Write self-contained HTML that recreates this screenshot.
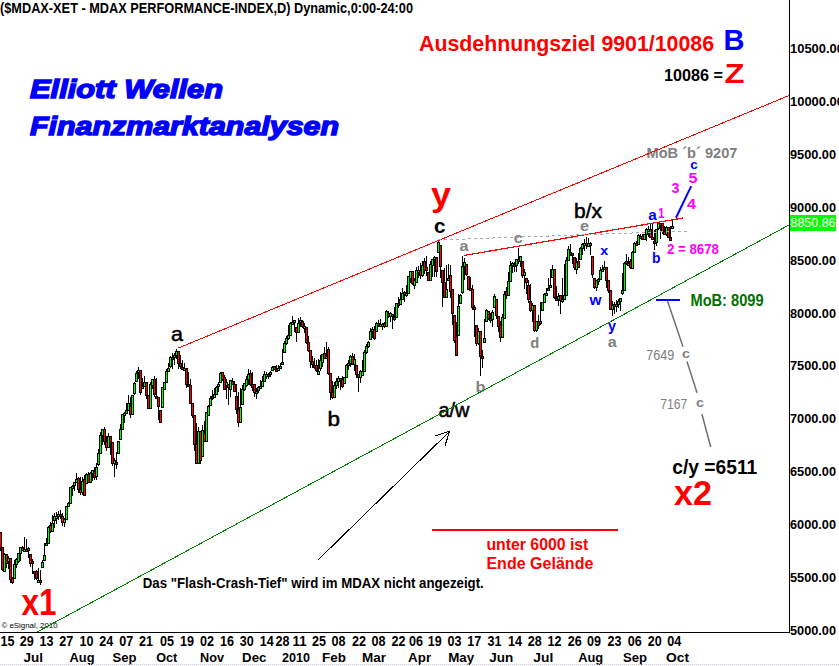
<!DOCTYPE html>
<html><head><meta charset="utf-8"><style>
html,body{margin:0;padding:0;background:#fff;width:839px;height:666px;overflow:hidden}
svg{display:block}
text{font-family:"Liberation Sans",sans-serif}
</style></head><body>
<svg width="839" height="666" viewBox="0 0 839 666">
<rect width="839" height="666" fill="#fff"/>
<g shape-rendering="crispEdges">
<rect x="0" y="532" width="1" height="19"/>
<rect x="-1" y="532" width="3" height="16"/>
<rect x="0" y="533" width="1" height="14" fill="#ff0000"/>
<rect x="2" y="547" width="1" height="24"/>
<rect x="1" y="547" width="3" height="23"/>
<rect x="2" y="548" width="1" height="21" fill="#ff0000"/>
<rect x="4" y="553" width="1" height="19"/>
<rect x="3" y="554" width="3" height="18"/>
<rect x="4" y="555" width="1" height="16" fill="#00ff00"/>
<rect x="6" y="554" width="1" height="14"/>
<rect x="5" y="554" width="3" height="10"/>
<rect x="6" y="555" width="1" height="8" fill="#ff0000"/>
<rect x="8" y="556" width="1" height="13"/>
<rect x="7" y="558" width="3" height="4"/>
<rect x="8" y="559" width="1" height="2" fill="#00ff00"/>
<rect x="10" y="558" width="1" height="25"/>
<rect x="9" y="558" width="3" height="22"/>
<rect x="10" y="559" width="1" height="20" fill="#ff0000"/>
<rect x="12" y="577" width="1" height="7"/>
<rect x="11" y="578" width="3" height="5"/>
<rect x="12" y="579" width="1" height="3" fill="#ff0000"/>
<rect x="14" y="560" width="1" height="19"/>
<rect x="13" y="564" width="3" height="15"/>
<rect x="14" y="565" width="1" height="13" fill="#00ff00"/>
<rect x="16" y="558" width="1" height="10"/>
<rect x="15" y="559" width="3" height="6"/>
<rect x="16" y="560" width="1" height="4" fill="#00ff00"/>
<rect x="18" y="553" width="1" height="10"/>
<rect x="17" y="553" width="3" height="9"/>
<rect x="18" y="554" width="1" height="7" fill="#00ff00"/>
<rect x="20" y="547" width="1" height="14"/>
<rect x="19" y="547" width="3" height="7"/>
<rect x="20" y="548" width="1" height="5" fill="#00ff00"/>
<rect x="22" y="546" width="1" height="5"/>
<rect x="21" y="547" width="3" height="4"/>
<rect x="22" y="548" width="1" height="2" fill="#ff0000"/>
<rect x="24" y="537" width="1" height="13"/>
<rect x="23" y="549" width="3" height="3"/>
<rect x="24" y="550" width="1" height="1" fill="#00ff00"/>
<rect x="26" y="539" width="1" height="12"/>
<rect x="25" y="549" width="3" height="3"/>
<rect x="26" y="550" width="1" height="1" fill="#ff0000"/>
<rect x="28" y="547" width="1" height="11"/>
<rect x="27" y="548" width="3" height="3"/>
<rect x="28" y="549" width="1" height="1" fill="#00ff00"/>
<rect x="30" y="554" width="1" height="13"/>
<rect x="29" y="554" width="3" height="10"/>
<rect x="30" y="555" width="1" height="8" fill="#ff0000"/>
<rect x="32" y="559" width="1" height="15"/>
<rect x="31" y="561" width="3" height="3"/>
<rect x="32" y="562" width="1" height="1" fill="#ff0000"/>
<rect x="34" y="571" width="1" height="9"/>
<rect x="33" y="571" width="3" height="3"/>
<rect x="34" y="572" width="1" height="1" fill="#ff0000"/>
<rect x="36" y="570" width="1" height="10"/>
<rect x="35" y="571" width="3" height="8"/>
<rect x="36" y="572" width="1" height="6" fill="#ff0000"/>
<rect x="38" y="568" width="1" height="14"/>
<rect x="37" y="580" width="3" height="3"/>
<rect x="38" y="581" width="1" height="1" fill="#00ff00"/>
<rect x="40" y="570" width="1" height="15"/>
<rect x="39" y="580" width="3" height="3"/>
<rect x="40" y="581" width="1" height="1" fill="#ff0000"/>
<rect x="42" y="560" width="1" height="8"/>
<rect x="41" y="562" width="3" height="6"/>
<rect x="42" y="563" width="1" height="4" fill="#00ff00"/>
<rect x="44" y="543" width="1" height="18"/>
<rect x="43" y="555" width="3" height="6"/>
<rect x="44" y="556" width="1" height="4" fill="#00ff00"/>
<rect x="46" y="538" width="1" height="7"/>
<rect x="45" y="543" width="3" height="3"/>
<rect x="46" y="544" width="1" height="1" fill="#00ff00"/>
<rect x="48" y="526" width="1" height="18"/>
<rect x="47" y="527" width="3" height="17"/>
<rect x="48" y="528" width="1" height="15" fill="#00ff00"/>
<rect x="50" y="522" width="1" height="11"/>
<rect x="49" y="525" width="3" height="7"/>
<rect x="50" y="526" width="1" height="5" fill="#ff0000"/>
<rect x="52" y="515" width="1" height="17"/>
<rect x="51" y="523" width="3" height="9"/>
<rect x="52" y="524" width="1" height="7" fill="#00ff00"/>
<rect x="54" y="513" width="1" height="15"/>
<rect x="53" y="516" width="3" height="5"/>
<rect x="54" y="517" width="1" height="3" fill="#00ff00"/>
<rect x="56" y="512" width="1" height="12"/>
<rect x="55" y="516" width="3" height="3"/>
<rect x="56" y="517" width="1" height="1" fill="#00ff00"/>
<rect x="58" y="511" width="1" height="9"/>
<rect x="57" y="514" width="3" height="3"/>
<rect x="58" y="515" width="1" height="1" fill="#00ff00"/>
<rect x="60" y="510" width="1" height="9"/>
<rect x="59" y="514" width="3" height="3"/>
<rect x="60" y="515" width="1" height="1" fill="#ff0000"/>
<rect x="62" y="513" width="1" height="13"/>
<rect x="61" y="516" width="3" height="7"/>
<rect x="62" y="517" width="1" height="5" fill="#ff0000"/>
<rect x="64" y="518" width="1" height="9"/>
<rect x="63" y="519" width="3" height="4"/>
<rect x="64" y="520" width="1" height="2" fill="#00ff00"/>
<rect x="66" y="506" width="1" height="14"/>
<rect x="65" y="506" width="3" height="14"/>
<rect x="66" y="507" width="1" height="12" fill="#00ff00"/>
<rect x="68" y="502" width="1" height="5"/>
<rect x="67" y="503" width="3" height="4"/>
<rect x="68" y="504" width="1" height="2" fill="#00ff00"/>
<rect x="70" y="487" width="1" height="17"/>
<rect x="69" y="487" width="3" height="17"/>
<rect x="70" y="488" width="1" height="15" fill="#00ff00"/>
<rect x="72" y="485" width="1" height="11"/>
<rect x="71" y="486" width="3" height="3"/>
<rect x="72" y="487" width="1" height="1" fill="#00ff00"/>
<rect x="74" y="482" width="1" height="9"/>
<rect x="73" y="482" width="3" height="4"/>
<rect x="74" y="483" width="1" height="2" fill="#00ff00"/>
<rect x="76" y="473" width="1" height="10"/>
<rect x="75" y="479" width="3" height="4"/>
<rect x="76" y="480" width="1" height="2" fill="#00ff00"/>
<rect x="78" y="477" width="1" height="16"/>
<rect x="77" y="478" width="3" height="12"/>
<rect x="78" y="479" width="1" height="10" fill="#ff0000"/>
<rect x="80" y="477" width="1" height="18"/>
<rect x="79" y="489" width="3" height="4"/>
<rect x="80" y="490" width="1" height="2" fill="#ff0000"/>
<rect x="82" y="477" width="1" height="18"/>
<rect x="81" y="481" width="3" height="12"/>
<rect x="82" y="482" width="1" height="10" fill="#00ff00"/>
<rect x="84" y="475" width="1" height="21"/>
<rect x="83" y="479" width="3" height="17"/>
<rect x="84" y="480" width="1" height="15" fill="#ff0000"/>
<rect x="86" y="473" width="1" height="11"/>
<rect x="85" y="474" width="3" height="10"/>
<rect x="86" y="475" width="1" height="8" fill="#00ff00"/>
<rect x="88" y="472" width="1" height="11"/>
<rect x="87" y="474" width="3" height="9"/>
<rect x="88" y="475" width="1" height="7" fill="#ff0000"/>
<rect x="90" y="472" width="1" height="11"/>
<rect x="89" y="473" width="3" height="10"/>
<rect x="90" y="474" width="1" height="8" fill="#00ff00"/>
<rect x="92" y="470" width="1" height="11"/>
<rect x="91" y="470" width="3" height="4"/>
<rect x="92" y="471" width="1" height="2" fill="#00ff00"/>
<rect x="94" y="467" width="1" height="13"/>
<rect x="93" y="471" width="3" height="7"/>
<rect x="94" y="472" width="1" height="5" fill="#ff0000"/>
<rect x="96" y="463" width="1" height="17"/>
<rect x="95" y="467" width="3" height="10"/>
<rect x="96" y="468" width="1" height="8" fill="#00ff00"/>
<rect x="98" y="449" width="1" height="17"/>
<rect x="97" y="453" width="3" height="12"/>
<rect x="98" y="454" width="1" height="10" fill="#00ff00"/>
<rect x="100" y="432" width="1" height="22"/>
<rect x="99" y="435" width="3" height="19"/>
<rect x="100" y="436" width="1" height="17" fill="#00ff00"/>
<rect x="102" y="429" width="1" height="16"/>
<rect x="101" y="429" width="3" height="7"/>
<rect x="102" y="430" width="1" height="5" fill="#00ff00"/>
<rect x="104" y="427" width="1" height="18"/>
<rect x="103" y="429" width="3" height="13"/>
<rect x="104" y="430" width="1" height="11" fill="#ff0000"/>
<rect x="106" y="436" width="1" height="15"/>
<rect x="105" y="441" width="3" height="7"/>
<rect x="106" y="442" width="1" height="5" fill="#ff0000"/>
<rect x="108" y="433" width="1" height="15"/>
<rect x="107" y="436" width="3" height="12"/>
<rect x="108" y="437" width="1" height="10" fill="#00ff00"/>
<rect x="110" y="436" width="1" height="19"/>
<rect x="109" y="436" width="3" height="7"/>
<rect x="110" y="437" width="1" height="5" fill="#ff0000"/>
<rect x="112" y="442" width="1" height="24"/>
<rect x="111" y="442" width="3" height="22"/>
<rect x="112" y="443" width="1" height="20" fill="#ff0000"/>
<rect x="114" y="458" width="1" height="19"/>
<rect x="113" y="460" width="3" height="4"/>
<rect x="114" y="461" width="1" height="2" fill="#00ff00"/>
<rect x="116" y="452" width="1" height="17"/>
<rect x="115" y="462" width="3" height="3"/>
<rect x="116" y="463" width="1" height="1" fill="#ff0000"/>
<rect x="118" y="441" width="1" height="13"/>
<rect x="117" y="441" width="3" height="13"/>
<rect x="118" y="442" width="1" height="11" fill="#00ff00"/>
<rect x="120" y="424" width="1" height="16"/>
<rect x="119" y="429" width="3" height="11"/>
<rect x="120" y="430" width="1" height="9" fill="#00ff00"/>
<rect x="122" y="414" width="1" height="16"/>
<rect x="121" y="414" width="3" height="16"/>
<rect x="122" y="415" width="1" height="14" fill="#00ff00"/>
<rect x="124" y="412" width="1" height="11"/>
<rect x="123" y="413" width="3" height="3"/>
<rect x="124" y="414" width="1" height="1" fill="#00ff00"/>
<rect x="126" y="403" width="1" height="11"/>
<rect x="125" y="410" width="3" height="4"/>
<rect x="126" y="411" width="1" height="2" fill="#00ff00"/>
<rect x="128" y="395" width="1" height="16"/>
<rect x="127" y="403" width="3" height="8"/>
<rect x="128" y="404" width="1" height="6" fill="#00ff00"/>
<rect x="130" y="397" width="1" height="21"/>
<rect x="129" y="406" width="3" height="9"/>
<rect x="130" y="407" width="1" height="7" fill="#ff0000"/>
<rect x="132" y="395" width="1" height="20"/>
<rect x="131" y="395" width="3" height="20"/>
<rect x="132" y="396" width="1" height="18" fill="#00ff00"/>
<rect x="134" y="382" width="1" height="13"/>
<rect x="133" y="383" width="3" height="11"/>
<rect x="134" y="384" width="1" height="9" fill="#00ff00"/>
<rect x="136" y="371" width="1" height="11"/>
<rect x="135" y="373" width="3" height="9"/>
<rect x="136" y="374" width="1" height="7" fill="#00ff00"/>
<rect x="138" y="367" width="1" height="12"/>
<rect x="137" y="370" width="3" height="3"/>
<rect x="138" y="371" width="1" height="1" fill="#00ff00"/>
<rect x="140" y="370" width="1" height="25"/>
<rect x="139" y="370" width="3" height="23"/>
<rect x="140" y="371" width="1" height="21" fill="#ff0000"/>
<rect x="142" y="378" width="1" height="11"/>
<rect x="141" y="386" width="3" height="3"/>
<rect x="142" y="387" width="1" height="1" fill="#00ff00"/>
<rect x="144" y="376" width="1" height="11"/>
<rect x="143" y="382" width="3" height="5"/>
<rect x="144" y="383" width="1" height="3" fill="#00ff00"/>
<rect x="146" y="382" width="1" height="17"/>
<rect x="145" y="382" width="3" height="14"/>
<rect x="146" y="383" width="1" height="12" fill="#ff0000"/>
<rect x="148" y="395" width="1" height="14"/>
<rect x="147" y="395" width="3" height="14"/>
<rect x="148" y="396" width="1" height="12" fill="#ff0000"/>
<rect x="150" y="382" width="1" height="27"/>
<rect x="149" y="384" width="3" height="25"/>
<rect x="150" y="385" width="1" height="23" fill="#00ff00"/>
<rect x="152" y="379" width="1" height="10"/>
<rect x="151" y="379" width="3" height="7"/>
<rect x="152" y="380" width="1" height="5" fill="#00ff00"/>
<rect x="154" y="376" width="1" height="21"/>
<rect x="153" y="379" width="3" height="16"/>
<rect x="154" y="380" width="1" height="14" fill="#ff0000"/>
<rect x="156" y="378" width="1" height="20"/>
<rect x="155" y="396" width="3" height="3"/>
<rect x="156" y="397" width="1" height="1" fill="#ff0000"/>
<rect x="158" y="397" width="1" height="23"/>
<rect x="157" y="397" width="3" height="10"/>
<rect x="158" y="398" width="1" height="8" fill="#ff0000"/>
<rect x="160" y="410" width="1" height="13"/>
<rect x="159" y="410" width="3" height="13"/>
<rect x="160" y="411" width="1" height="11" fill="#ff0000"/>
<rect x="162" y="387" width="1" height="21"/>
<rect x="161" y="387" width="3" height="21"/>
<rect x="162" y="388" width="1" height="19" fill="#00ff00"/>
<rect x="164" y="382" width="1" height="8"/>
<rect x="163" y="382" width="3" height="8"/>
<rect x="164" y="383" width="1" height="6" fill="#00ff00"/>
<rect x="166" y="369" width="1" height="14"/>
<rect x="165" y="371" width="3" height="12"/>
<rect x="166" y="372" width="1" height="10" fill="#00ff00"/>
<rect x="168" y="363" width="1" height="9"/>
<rect x="167" y="368" width="3" height="4"/>
<rect x="168" y="369" width="1" height="2" fill="#00ff00"/>
<rect x="170" y="356" width="1" height="12"/>
<rect x="169" y="357" width="3" height="10"/>
<rect x="170" y="358" width="1" height="8" fill="#00ff00"/>
<rect x="172" y="353" width="1" height="16"/>
<rect x="171" y="357" width="3" height="3"/>
<rect x="172" y="358" width="1" height="1" fill="#ff0000"/>
<rect x="174" y="353" width="1" height="12"/>
<rect x="173" y="355" width="3" height="3"/>
<rect x="174" y="356" width="1" height="1" fill="#00ff00"/>
<rect x="176" y="349" width="1" height="10"/>
<rect x="175" y="351" width="3" height="5"/>
<rect x="176" y="352" width="1" height="3" fill="#00ff00"/>
<rect x="178" y="351" width="1" height="18"/>
<rect x="177" y="351" width="3" height="13"/>
<rect x="178" y="352" width="1" height="11" fill="#ff0000"/>
<rect x="180" y="355" width="1" height="14"/>
<rect x="179" y="363" width="3" height="4"/>
<rect x="180" y="364" width="1" height="2" fill="#ff0000"/>
<rect x="182" y="360" width="1" height="9"/>
<rect x="181" y="367" width="3" height="3"/>
<rect x="182" y="368" width="1" height="1" fill="#ff0000"/>
<rect x="184" y="363" width="1" height="7"/>
<rect x="183" y="368" width="3" height="3"/>
<rect x="184" y="369" width="1" height="1" fill="#00ff00"/>
<rect x="186" y="368" width="1" height="20"/>
<rect x="185" y="368" width="3" height="17"/>
<rect x="186" y="369" width="1" height="15" fill="#ff0000"/>
<rect x="188" y="372" width="1" height="15"/>
<rect x="187" y="384" width="3" height="3"/>
<rect x="188" y="385" width="1" height="1" fill="#ff0000"/>
<rect x="190" y="379" width="1" height="25"/>
<rect x="189" y="385" width="3" height="19"/>
<rect x="190" y="386" width="1" height="17" fill="#ff0000"/>
<rect x="192" y="403" width="1" height="15"/>
<rect x="191" y="403" width="3" height="13"/>
<rect x="192" y="404" width="1" height="11" fill="#ff0000"/>
<rect x="194" y="415" width="1" height="36"/>
<rect x="193" y="415" width="3" height="30"/>
<rect x="194" y="416" width="1" height="28" fill="#ff0000"/>
<rect x="196" y="423" width="1" height="41"/>
<rect x="195" y="444" width="3" height="20"/>
<rect x="196" y="445" width="1" height="18" fill="#ff0000"/>
<rect x="198" y="427" width="1" height="37"/>
<rect x="197" y="431" width="3" height="33"/>
<rect x="198" y="432" width="1" height="31" fill="#00ff00"/>
<rect x="200" y="431" width="1" height="33"/>
<rect x="199" y="431" width="3" height="30"/>
<rect x="200" y="432" width="1" height="28" fill="#ff0000"/>
<rect x="202" y="425" width="1" height="32"/>
<rect x="201" y="430" width="3" height="27"/>
<rect x="202" y="431" width="1" height="25" fill="#00ff00"/>
<rect x="204" y="421" width="1" height="21"/>
<rect x="203" y="433" width="3" height="9"/>
<rect x="204" y="434" width="1" height="7" fill="#ff0000"/>
<rect x="206" y="412" width="1" height="30"/>
<rect x="205" y="412" width="3" height="30"/>
<rect x="206" y="413" width="1" height="28" fill="#00ff00"/>
<rect x="208" y="405" width="1" height="11"/>
<rect x="207" y="406" width="3" height="10"/>
<rect x="208" y="407" width="1" height="8" fill="#00ff00"/>
<rect x="210" y="396" width="1" height="10"/>
<rect x="209" y="398" width="3" height="8"/>
<rect x="210" y="399" width="1" height="6" fill="#00ff00"/>
<rect x="212" y="390" width="1" height="10"/>
<rect x="211" y="396" width="3" height="3"/>
<rect x="212" y="397" width="1" height="1" fill="#ff0000"/>
<rect x="214" y="388" width="1" height="10"/>
<rect x="213" y="394" width="3" height="4"/>
<rect x="214" y="395" width="1" height="2" fill="#00ff00"/>
<rect x="216" y="386" width="1" height="9"/>
<rect x="215" y="387" width="3" height="8"/>
<rect x="216" y="388" width="1" height="6" fill="#00ff00"/>
<rect x="218" y="382" width="1" height="10"/>
<rect x="217" y="384" width="3" height="3"/>
<rect x="218" y="385" width="1" height="1" fill="#00ff00"/>
<rect x="220" y="372" width="1" height="11"/>
<rect x="219" y="373" width="3" height="10"/>
<rect x="220" y="374" width="1" height="8" fill="#00ff00"/>
<rect x="222" y="372" width="1" height="9"/>
<rect x="221" y="372" width="3" height="8"/>
<rect x="222" y="373" width="1" height="6" fill="#ff0000"/>
<rect x="224" y="375" width="1" height="15"/>
<rect x="223" y="377" width="3" height="13"/>
<rect x="224" y="378" width="1" height="11" fill="#ff0000"/>
<rect x="226" y="379" width="1" height="20"/>
<rect x="225" y="382" width="3" height="4"/>
<rect x="226" y="383" width="1" height="2" fill="#00ff00"/>
<rect x="228" y="384" width="1" height="21"/>
<rect x="227" y="384" width="3" height="4"/>
<rect x="228" y="385" width="1" height="2" fill="#ff0000"/>
<rect x="230" y="380" width="1" height="17"/>
<rect x="229" y="380" width="3" height="10"/>
<rect x="230" y="381" width="1" height="8" fill="#00ff00"/>
<rect x="232" y="378" width="1" height="7"/>
<rect x="231" y="381" width="3" height="4"/>
<rect x="232" y="382" width="1" height="2" fill="#ff0000"/>
<rect x="234" y="381" width="1" height="11"/>
<rect x="233" y="384" width="3" height="8"/>
<rect x="234" y="385" width="1" height="6" fill="#ff0000"/>
<rect x="236" y="384" width="1" height="30"/>
<rect x="235" y="396" width="3" height="14"/>
<rect x="236" y="397" width="1" height="12" fill="#ff0000"/>
<rect x="238" y="392" width="1" height="35"/>
<rect x="237" y="409" width="3" height="14"/>
<rect x="238" y="410" width="1" height="12" fill="#ff0000"/>
<rect x="240" y="388" width="1" height="35"/>
<rect x="239" y="407" width="3" height="16"/>
<rect x="240" y="408" width="1" height="14" fill="#00ff00"/>
<rect x="242" y="385" width="1" height="20"/>
<rect x="241" y="389" width="3" height="16"/>
<rect x="242" y="390" width="1" height="14" fill="#00ff00"/>
<rect x="244" y="383" width="1" height="8"/>
<rect x="243" y="383" width="3" height="7"/>
<rect x="244" y="384" width="1" height="5" fill="#00ff00"/>
<rect x="246" y="376" width="1" height="11"/>
<rect x="245" y="379" width="3" height="7"/>
<rect x="246" y="380" width="1" height="5" fill="#00ff00"/>
<rect x="248" y="369" width="1" height="16"/>
<rect x="247" y="374" width="3" height="6"/>
<rect x="248" y="375" width="1" height="4" fill="#00ff00"/>
<rect x="250" y="370" width="1" height="16"/>
<rect x="249" y="373" width="3" height="12"/>
<rect x="250" y="374" width="1" height="10" fill="#ff0000"/>
<rect x="252" y="372" width="1" height="19"/>
<rect x="251" y="384" width="3" height="4"/>
<rect x="252" y="385" width="1" height="2" fill="#ff0000"/>
<rect x="254" y="384" width="1" height="13"/>
<rect x="253" y="384" width="3" height="9"/>
<rect x="254" y="385" width="1" height="7" fill="#ff0000"/>
<rect x="256" y="388" width="1" height="11"/>
<rect x="255" y="391" width="3" height="3"/>
<rect x="256" y="392" width="1" height="1" fill="#00ff00"/>
<rect x="258" y="386" width="1" height="7"/>
<rect x="257" y="387" width="3" height="4"/>
<rect x="258" y="388" width="1" height="2" fill="#00ff00"/>
<rect x="260" y="380" width="1" height="8"/>
<rect x="259" y="386" width="3" height="3"/>
<rect x="260" y="387" width="1" height="1" fill="#00ff00"/>
<rect x="262" y="376" width="1" height="11"/>
<rect x="261" y="381" width="3" height="6"/>
<rect x="262" y="382" width="1" height="4" fill="#00ff00"/>
<rect x="264" y="371" width="1" height="11"/>
<rect x="263" y="374" width="3" height="8"/>
<rect x="264" y="375" width="1" height="6" fill="#00ff00"/>
<rect x="266" y="372" width="1" height="7"/>
<rect x="265" y="374" width="3" height="3"/>
<rect x="266" y="375" width="1" height="1" fill="#00ff00"/>
<rect x="268" y="373" width="1" height="6"/>
<rect x="267" y="374" width="3" height="3"/>
<rect x="268" y="375" width="1" height="1" fill="#ff0000"/>
<rect x="270" y="371" width="1" height="6"/>
<rect x="269" y="372" width="3" height="3"/>
<rect x="270" y="373" width="1" height="1" fill="#00ff00"/>
<rect x="272" y="366" width="1" height="5"/>
<rect x="271" y="367" width="3" height="4"/>
<rect x="272" y="368" width="1" height="2" fill="#00ff00"/>
<rect x="274" y="366" width="1" height="4"/>
<rect x="273" y="366" width="3" height="4"/>
<rect x="274" y="367" width="1" height="2" fill="#ff0000"/>
<rect x="276" y="365" width="1" height="5"/>
<rect x="275" y="369" width="3" height="3"/>
<rect x="276" y="370" width="1" height="1" fill="#ff0000"/>
<rect x="278" y="365" width="1" height="5"/>
<rect x="277" y="368" width="3" height="3"/>
<rect x="278" y="369" width="1" height="1" fill="#00ff00"/>
<rect x="280" y="363" width="1" height="4"/>
<rect x="279" y="366" width="3" height="3"/>
<rect x="280" y="367" width="1" height="1" fill="#00ff00"/>
<rect x="282" y="349" width="1" height="15"/>
<rect x="281" y="362" width="3" height="3"/>
<rect x="282" y="363" width="1" height="1" fill="#00ff00"/>
<rect x="284" y="341" width="1" height="12"/>
<rect x="283" y="343" width="3" height="10"/>
<rect x="284" y="344" width="1" height="8" fill="#00ff00"/>
<rect x="286" y="336" width="1" height="9"/>
<rect x="285" y="338" width="3" height="6"/>
<rect x="286" y="339" width="1" height="4" fill="#00ff00"/>
<rect x="288" y="325" width="1" height="15"/>
<rect x="287" y="335" width="3" height="4"/>
<rect x="288" y="336" width="1" height="2" fill="#00ff00"/>
<rect x="290" y="322" width="1" height="14"/>
<rect x="289" y="323" width="3" height="13"/>
<rect x="290" y="324" width="1" height="11" fill="#00ff00"/>
<rect x="292" y="316" width="1" height="8"/>
<rect x="291" y="322" width="3" height="3"/>
<rect x="292" y="323" width="1" height="1" fill="#00ff00"/>
<rect x="294" y="320" width="1" height="12"/>
<rect x="293" y="320" width="3" height="3"/>
<rect x="294" y="321" width="1" height="1" fill="#00ff00"/>
<rect x="296" y="327" width="1" height="15"/>
<rect x="295" y="327" width="3" height="6"/>
<rect x="296" y="328" width="1" height="4" fill="#ff0000"/>
<rect x="298" y="318" width="1" height="15"/>
<rect x="297" y="323" width="3" height="10"/>
<rect x="298" y="324" width="1" height="8" fill="#00ff00"/>
<rect x="300" y="317" width="1" height="10"/>
<rect x="299" y="320" width="3" height="3"/>
<rect x="300" y="321" width="1" height="1" fill="#00ff00"/>
<rect x="302" y="320" width="1" height="8"/>
<rect x="301" y="321" width="3" height="6"/>
<rect x="302" y="322" width="1" height="4" fill="#ff0000"/>
<rect x="304" y="323" width="1" height="10"/>
<rect x="303" y="326" width="3" height="3"/>
<rect x="304" y="327" width="1" height="1" fill="#00ff00"/>
<rect x="306" y="327" width="1" height="17"/>
<rect x="305" y="327" width="3" height="16"/>
<rect x="306" y="328" width="1" height="14" fill="#ff0000"/>
<rect x="308" y="336" width="1" height="16"/>
<rect x="307" y="342" width="3" height="9"/>
<rect x="308" y="343" width="1" height="7" fill="#ff0000"/>
<rect x="310" y="350" width="1" height="18"/>
<rect x="309" y="350" width="3" height="12"/>
<rect x="310" y="351" width="1" height="10" fill="#ff0000"/>
<rect x="312" y="356" width="1" height="12"/>
<rect x="311" y="361" width="3" height="4"/>
<rect x="312" y="362" width="1" height="2" fill="#ff0000"/>
<rect x="314" y="358" width="1" height="11"/>
<rect x="313" y="365" width="3" height="3"/>
<rect x="314" y="366" width="1" height="1" fill="#ff0000"/>
<rect x="316" y="360" width="1" height="12"/>
<rect x="315" y="365" width="3" height="6"/>
<rect x="316" y="366" width="1" height="4" fill="#ff0000"/>
<rect x="318" y="359" width="1" height="16"/>
<rect x="317" y="371" width="3" height="4"/>
<rect x="318" y="372" width="1" height="2" fill="#00ff00"/>
<rect x="320" y="355" width="1" height="16"/>
<rect x="319" y="360" width="3" height="9"/>
<rect x="320" y="361" width="1" height="7" fill="#00ff00"/>
<rect x="322" y="354" width="1" height="13"/>
<rect x="321" y="354" width="3" height="9"/>
<rect x="322" y="355" width="1" height="7" fill="#00ff00"/>
<rect x="324" y="347" width="1" height="12"/>
<rect x="323" y="353" width="3" height="6"/>
<rect x="324" y="354" width="1" height="4" fill="#ff0000"/>
<rect x="326" y="342" width="1" height="17"/>
<rect x="325" y="356" width="3" height="3"/>
<rect x="326" y="357" width="1" height="1" fill="#00ff00"/>
<rect x="328" y="347" width="1" height="28"/>
<rect x="327" y="349" width="3" height="25"/>
<rect x="328" y="350" width="1" height="23" fill="#ff0000"/>
<rect x="330" y="373" width="1" height="27"/>
<rect x="329" y="373" width="3" height="20"/>
<rect x="330" y="374" width="1" height="18" fill="#ff0000"/>
<rect x="332" y="381" width="1" height="18"/>
<rect x="331" y="392" width="3" height="6"/>
<rect x="332" y="393" width="1" height="4" fill="#ff0000"/>
<rect x="334" y="382" width="1" height="16"/>
<rect x="333" y="385" width="3" height="13"/>
<rect x="334" y="386" width="1" height="11" fill="#00ff00"/>
<rect x="336" y="378" width="1" height="11"/>
<rect x="335" y="381" width="3" height="5"/>
<rect x="336" y="382" width="1" height="3" fill="#00ff00"/>
<rect x="338" y="376" width="1" height="12"/>
<rect x="337" y="378" width="3" height="4"/>
<rect x="338" y="379" width="1" height="2" fill="#00ff00"/>
<rect x="340" y="378" width="1" height="12"/>
<rect x="339" y="378" width="3" height="3"/>
<rect x="340" y="379" width="1" height="1" fill="#ff0000"/>
<rect x="342" y="376" width="1" height="12"/>
<rect x="341" y="379" width="3" height="8"/>
<rect x="342" y="380" width="1" height="6" fill="#ff0000"/>
<rect x="344" y="377" width="1" height="7"/>
<rect x="343" y="377" width="3" height="7"/>
<rect x="344" y="378" width="1" height="5" fill="#00ff00"/>
<rect x="346" y="364" width="1" height="14"/>
<rect x="345" y="365" width="3" height="13"/>
<rect x="346" y="366" width="1" height="11" fill="#00ff00"/>
<rect x="348" y="360" width="1" height="10"/>
<rect x="347" y="363" width="3" height="3"/>
<rect x="348" y="364" width="1" height="1" fill="#00ff00"/>
<rect x="350" y="355" width="1" height="12"/>
<rect x="349" y="356" width="3" height="8"/>
<rect x="350" y="357" width="1" height="6" fill="#00ff00"/>
<rect x="352" y="353" width="1" height="12"/>
<rect x="351" y="356" width="3" height="9"/>
<rect x="352" y="357" width="1" height="7" fill="#ff0000"/>
<rect x="354" y="354" width="1" height="17"/>
<rect x="353" y="359" width="3" height="6"/>
<rect x="354" y="360" width="1" height="4" fill="#00ff00"/>
<rect x="356" y="365" width="1" height="13"/>
<rect x="355" y="365" width="3" height="10"/>
<rect x="356" y="366" width="1" height="8" fill="#ff0000"/>
<rect x="358" y="374" width="1" height="18"/>
<rect x="357" y="374" width="3" height="4"/>
<rect x="358" y="375" width="1" height="2" fill="#ff0000"/>
<rect x="360" y="370" width="1" height="13"/>
<rect x="359" y="371" width="3" height="7"/>
<rect x="360" y="372" width="1" height="5" fill="#00ff00"/>
<rect x="362" y="360" width="1" height="16"/>
<rect x="361" y="371" width="3" height="5"/>
<rect x="362" y="372" width="1" height="3" fill="#00ff00"/>
<rect x="364" y="350" width="1" height="22"/>
<rect x="363" y="352" width="3" height="20"/>
<rect x="364" y="353" width="1" height="18" fill="#00ff00"/>
<rect x="366" y="344" width="1" height="10"/>
<rect x="365" y="346" width="3" height="7"/>
<rect x="366" y="347" width="1" height="5" fill="#00ff00"/>
<rect x="368" y="341" width="1" height="7"/>
<rect x="367" y="342" width="3" height="5"/>
<rect x="368" y="343" width="1" height="3" fill="#00ff00"/>
<rect x="370" y="328" width="1" height="12"/>
<rect x="369" y="331" width="3" height="9"/>
<rect x="370" y="332" width="1" height="7" fill="#00ff00"/>
<rect x="372" y="327" width="1" height="11"/>
<rect x="371" y="329" width="3" height="3"/>
<rect x="372" y="330" width="1" height="1" fill="#00ff00"/>
<rect x="374" y="326" width="1" height="14"/>
<rect x="373" y="329" width="3" height="10"/>
<rect x="374" y="330" width="1" height="8" fill="#ff0000"/>
<rect x="376" y="322" width="1" height="10"/>
<rect x="375" y="323" width="3" height="9"/>
<rect x="376" y="324" width="1" height="7" fill="#00ff00"/>
<rect x="378" y="320" width="1" height="7"/>
<rect x="377" y="323" width="3" height="3"/>
<rect x="378" y="324" width="1" height="1" fill="#ff0000"/>
<rect x="380" y="319" width="1" height="7"/>
<rect x="379" y="324" width="3" height="3"/>
<rect x="380" y="325" width="1" height="1" fill="#00ff00"/>
<rect x="382" y="323" width="1" height="7"/>
<rect x="381" y="324" width="3" height="3"/>
<rect x="382" y="325" width="1" height="1" fill="#00ff00"/>
<rect x="384" y="322" width="1" height="6"/>
<rect x="383" y="323" width="3" height="4"/>
<rect x="384" y="324" width="1" height="2" fill="#ff0000"/>
<rect x="386" y="310" width="1" height="17"/>
<rect x="385" y="311" width="3" height="16"/>
<rect x="386" y="312" width="1" height="14" fill="#00ff00"/>
<rect x="388" y="311" width="1" height="7"/>
<rect x="387" y="313" width="3" height="4"/>
<rect x="388" y="314" width="1" height="2" fill="#ff0000"/>
<rect x="390" y="312" width="1" height="10"/>
<rect x="389" y="313" width="3" height="4"/>
<rect x="390" y="314" width="1" height="2" fill="#00ff00"/>
<rect x="392" y="314" width="1" height="15"/>
<rect x="391" y="314" width="3" height="3"/>
<rect x="392" y="315" width="1" height="1" fill="#ff0000"/>
<rect x="394" y="307" width="1" height="14"/>
<rect x="393" y="317" width="3" height="3"/>
<rect x="394" y="318" width="1" height="1" fill="#00ff00"/>
<rect x="396" y="303" width="1" height="15"/>
<rect x="395" y="303" width="3" height="15"/>
<rect x="396" y="304" width="1" height="13" fill="#00ff00"/>
<rect x="398" y="297" width="1" height="11"/>
<rect x="397" y="303" width="3" height="3"/>
<rect x="398" y="304" width="1" height="1" fill="#ff0000"/>
<rect x="400" y="292" width="1" height="13"/>
<rect x="399" y="299" width="3" height="6"/>
<rect x="400" y="300" width="1" height="4" fill="#00ff00"/>
<rect x="402" y="288" width="1" height="12"/>
<rect x="401" y="293" width="3" height="7"/>
<rect x="402" y="294" width="1" height="5" fill="#00ff00"/>
<rect x="404" y="291" width="1" height="11"/>
<rect x="403" y="292" width="3" height="3"/>
<rect x="404" y="293" width="1" height="1" fill="#ff0000"/>
<rect x="406" y="285" width="1" height="12"/>
<rect x="405" y="293" width="3" height="3"/>
<rect x="406" y="294" width="1" height="1" fill="#00ff00"/>
<rect x="408" y="276" width="1" height="18"/>
<rect x="407" y="276" width="3" height="18"/>
<rect x="408" y="277" width="1" height="16" fill="#00ff00"/>
<rect x="410" y="271" width="1" height="12"/>
<rect x="409" y="271" width="3" height="8"/>
<rect x="410" y="272" width="1" height="6" fill="#00ff00"/>
<rect x="412" y="271" width="1" height="14"/>
<rect x="411" y="271" width="3" height="13"/>
<rect x="412" y="272" width="1" height="11" fill="#ff0000"/>
<rect x="414" y="278" width="1" height="11"/>
<rect x="413" y="280" width="3" height="6"/>
<rect x="414" y="281" width="1" height="4" fill="#00ff00"/>
<rect x="416" y="267" width="1" height="16"/>
<rect x="415" y="270" width="3" height="13"/>
<rect x="416" y="271" width="1" height="11" fill="#00ff00"/>
<rect x="418" y="266" width="1" height="12"/>
<rect x="417" y="270" width="3" height="3"/>
<rect x="418" y="271" width="1" height="1" fill="#00ff00"/>
<rect x="420" y="263" width="1" height="16"/>
<rect x="419" y="270" width="3" height="6"/>
<rect x="420" y="271" width="1" height="4" fill="#ff0000"/>
<rect x="422" y="261" width="1" height="16"/>
<rect x="421" y="265" width="3" height="11"/>
<rect x="422" y="266" width="1" height="9" fill="#00ff00"/>
<rect x="424" y="258" width="1" height="16"/>
<rect x="423" y="261" width="3" height="10"/>
<rect x="424" y="262" width="1" height="8" fill="#ff0000"/>
<rect x="426" y="256" width="1" height="20"/>
<rect x="425" y="267" width="3" height="4"/>
<rect x="426" y="268" width="1" height="2" fill="#ff0000"/>
<rect x="428" y="272" width="1" height="9"/>
<rect x="427" y="272" width="3" height="9"/>
<rect x="428" y="273" width="1" height="7" fill="#ff0000"/>
<rect x="430" y="261" width="1" height="20"/>
<rect x="429" y="264" width="3" height="17"/>
<rect x="430" y="265" width="1" height="15" fill="#00ff00"/>
<rect x="432" y="259" width="1" height="18"/>
<rect x="431" y="259" width="3" height="7"/>
<rect x="432" y="260" width="1" height="5" fill="#00ff00"/>
<rect x="434" y="256" width="1" height="21"/>
<rect x="433" y="257" width="3" height="3"/>
<rect x="434" y="258" width="1" height="1" fill="#00ff00"/>
<rect x="436" y="257" width="1" height="20"/>
<rect x="435" y="257" width="3" height="15"/>
<rect x="436" y="258" width="1" height="13" fill="#ff0000"/>
<rect x="438" y="240" width="1" height="13"/>
<rect x="437" y="242" width="3" height="11"/>
<rect x="438" y="243" width="1" height="9" fill="#00ff00"/>
<rect x="440" y="245" width="1" height="33"/>
<rect x="439" y="245" width="3" height="22"/>
<rect x="440" y="246" width="1" height="20" fill="#ff0000"/>
<rect x="442" y="270" width="1" height="37"/>
<rect x="441" y="270" width="3" height="13"/>
<rect x="442" y="271" width="1" height="11" fill="#ff0000"/>
<rect x="444" y="268" width="1" height="30"/>
<rect x="443" y="282" width="3" height="16"/>
<rect x="444" y="283" width="1" height="14" fill="#ff0000"/>
<rect x="446" y="265" width="1" height="33"/>
<rect x="445" y="289" width="3" height="9"/>
<rect x="446" y="290" width="1" height="7" fill="#00ff00"/>
<rect x="448" y="264" width="1" height="17"/>
<rect x="447" y="278" width="3" height="3"/>
<rect x="448" y="279" width="1" height="1" fill="#00ff00"/>
<rect x="450" y="265" width="1" height="33"/>
<rect x="449" y="275" width="3" height="17"/>
<rect x="450" y="276" width="1" height="15" fill="#ff0000"/>
<rect x="452" y="289" width="1" height="36"/>
<rect x="451" y="289" width="3" height="25"/>
<rect x="452" y="290" width="1" height="23" fill="#ff0000"/>
<rect x="454" y="315" width="1" height="28"/>
<rect x="453" y="315" width="3" height="26"/>
<rect x="454" y="316" width="1" height="24" fill="#ff0000"/>
<rect x="456" y="322" width="1" height="34"/>
<rect x="455" y="336" width="3" height="20"/>
<rect x="456" y="337" width="1" height="18" fill="#ff0000"/>
<rect x="458" y="294" width="1" height="42"/>
<rect x="457" y="306" width="3" height="30"/>
<rect x="458" y="307" width="1" height="28" fill="#00ff00"/>
<rect x="460" y="294" width="1" height="10"/>
<rect x="459" y="295" width="3" height="9"/>
<rect x="460" y="296" width="1" height="7" fill="#00ff00"/>
<rect x="462" y="256" width="1" height="38"/>
<rect x="461" y="266" width="3" height="27"/>
<rect x="462" y="267" width="1" height="25" fill="#00ff00"/>
<rect x="464" y="258" width="1" height="22"/>
<rect x="463" y="262" width="3" height="5"/>
<rect x="464" y="263" width="1" height="3" fill="#00ff00"/>
<rect x="466" y="264" width="1" height="12"/>
<rect x="465" y="264" width="3" height="11"/>
<rect x="466" y="265" width="1" height="9" fill="#ff0000"/>
<rect x="468" y="276" width="1" height="14"/>
<rect x="467" y="276" width="3" height="14"/>
<rect x="468" y="277" width="1" height="12" fill="#ff0000"/>
<rect x="470" y="277" width="1" height="13"/>
<rect x="469" y="288" width="3" height="3"/>
<rect x="470" y="289" width="1" height="1" fill="#ff0000"/>
<rect x="472" y="285" width="1" height="25"/>
<rect x="471" y="289" width="3" height="19"/>
<rect x="472" y="290" width="1" height="17" fill="#ff0000"/>
<rect x="474" y="305" width="1" height="32"/>
<rect x="473" y="307" width="3" height="3"/>
<rect x="474" y="308" width="1" height="1" fill="#ff0000"/>
<rect x="476" y="325" width="1" height="21"/>
<rect x="475" y="325" width="3" height="19"/>
<rect x="476" y="326" width="1" height="17" fill="#ff0000"/>
<rect x="478" y="328" width="1" height="17"/>
<rect x="477" y="331" width="3" height="13"/>
<rect x="478" y="332" width="1" height="11" fill="#00ff00"/>
<rect x="480" y="331" width="1" height="45"/>
<rect x="479" y="331" width="3" height="26"/>
<rect x="480" y="332" width="1" height="24" fill="#ff0000"/>
<rect x="482" y="350" width="1" height="18"/>
<rect x="481" y="356" width="3" height="3"/>
<rect x="482" y="357" width="1" height="1" fill="#ff0000"/>
<rect x="484" y="319" width="1" height="24"/>
<rect x="483" y="338" width="3" height="5"/>
<rect x="484" y="339" width="1" height="3" fill="#00ff00"/>
<rect x="486" y="309" width="1" height="13"/>
<rect x="485" y="310" width="3" height="12"/>
<rect x="486" y="311" width="1" height="10" fill="#00ff00"/>
<rect x="488" y="311" width="1" height="9"/>
<rect x="487" y="311" width="3" height="8"/>
<rect x="488" y="312" width="1" height="6" fill="#ff0000"/>
<rect x="490" y="313" width="1" height="10"/>
<rect x="489" y="318" width="3" height="3"/>
<rect x="490" y="319" width="1" height="1" fill="#ff0000"/>
<rect x="492" y="310" width="1" height="17"/>
<rect x="491" y="312" width="3" height="8"/>
<rect x="492" y="313" width="1" height="6" fill="#00ff00"/>
<rect x="494" y="294" width="1" height="14"/>
<rect x="493" y="296" width="3" height="12"/>
<rect x="494" y="297" width="1" height="10" fill="#00ff00"/>
<rect x="496" y="299" width="1" height="20"/>
<rect x="495" y="299" width="3" height="17"/>
<rect x="496" y="300" width="1" height="15" fill="#ff0000"/>
<rect x="498" y="316" width="1" height="16"/>
<rect x="497" y="316" width="3" height="11"/>
<rect x="498" y="317" width="1" height="9" fill="#ff0000"/>
<rect x="500" y="321" width="1" height="21"/>
<rect x="499" y="325" width="3" height="13"/>
<rect x="500" y="326" width="1" height="11" fill="#ff0000"/>
<rect x="502" y="314" width="1" height="24"/>
<rect x="501" y="317" width="3" height="21"/>
<rect x="502" y="318" width="1" height="19" fill="#00ff00"/>
<rect x="504" y="291" width="1" height="28"/>
<rect x="503" y="294" width="3" height="25"/>
<rect x="504" y="295" width="1" height="23" fill="#00ff00"/>
<rect x="506" y="287" width="1" height="12"/>
<rect x="505" y="291" width="3" height="5"/>
<rect x="506" y="292" width="1" height="3" fill="#ff0000"/>
<rect x="508" y="272" width="1" height="24"/>
<rect x="507" y="281" width="3" height="15"/>
<rect x="508" y="282" width="1" height="13" fill="#00ff00"/>
<rect x="510" y="261" width="1" height="21"/>
<rect x="509" y="265" width="3" height="17"/>
<rect x="510" y="266" width="1" height="15" fill="#00ff00"/>
<rect x="512" y="262" width="1" height="11"/>
<rect x="511" y="263" width="3" height="3"/>
<rect x="512" y="264" width="1" height="1" fill="#00ff00"/>
<rect x="514" y="262" width="1" height="10"/>
<rect x="513" y="264" width="3" height="3"/>
<rect x="514" y="265" width="1" height="1" fill="#ff0000"/>
<rect x="516" y="259" width="1" height="13"/>
<rect x="515" y="259" width="3" height="7"/>
<rect x="516" y="260" width="1" height="5" fill="#00ff00"/>
<rect x="518" y="248" width="1" height="16"/>
<rect x="517" y="259" width="3" height="3"/>
<rect x="518" y="260" width="1" height="1" fill="#ff0000"/>
<rect x="520" y="256" width="1" height="11"/>
<rect x="519" y="256" width="3" height="6"/>
<rect x="520" y="257" width="1" height="4" fill="#00ff00"/>
<rect x="522" y="261" width="1" height="17"/>
<rect x="521" y="261" width="3" height="15"/>
<rect x="522" y="262" width="1" height="13" fill="#ff0000"/>
<rect x="524" y="269" width="1" height="20"/>
<rect x="523" y="272" width="3" height="4"/>
<rect x="524" y="273" width="1" height="2" fill="#00ff00"/>
<rect x="526" y="278" width="1" height="16"/>
<rect x="525" y="278" width="3" height="5"/>
<rect x="526" y="279" width="1" height="3" fill="#ff0000"/>
<rect x="528" y="280" width="1" height="23"/>
<rect x="527" y="285" width="3" height="15"/>
<rect x="528" y="286" width="1" height="13" fill="#ff0000"/>
<rect x="530" y="284" width="1" height="28"/>
<rect x="529" y="301" width="3" height="10"/>
<rect x="530" y="302" width="1" height="8" fill="#ff0000"/>
<rect x="532" y="303" width="1" height="19"/>
<rect x="531" y="305" width="3" height="6"/>
<rect x="532" y="306" width="1" height="4" fill="#00ff00"/>
<rect x="534" y="305" width="1" height="27"/>
<rect x="533" y="305" width="3" height="26"/>
<rect x="534" y="306" width="1" height="24" fill="#ff0000"/>
<rect x="536" y="321" width="1" height="11"/>
<rect x="535" y="321" width="3" height="10"/>
<rect x="536" y="322" width="1" height="8" fill="#00ff00"/>
<rect x="538" y="315" width="1" height="14"/>
<rect x="537" y="321" width="3" height="5"/>
<rect x="538" y="322" width="1" height="3" fill="#ff0000"/>
<rect x="540" y="302" width="1" height="23"/>
<rect x="539" y="321" width="3" height="3"/>
<rect x="540" y="322" width="1" height="1" fill="#00ff00"/>
<rect x="542" y="302" width="1" height="9"/>
<rect x="541" y="302" width="3" height="9"/>
<rect x="542" y="303" width="1" height="7" fill="#00ff00"/>
<rect x="544" y="293" width="1" height="10"/>
<rect x="543" y="294" width="3" height="9"/>
<rect x="544" y="295" width="1" height="7" fill="#00ff00"/>
<rect x="546" y="288" width="1" height="7"/>
<rect x="545" y="293" width="3" height="3"/>
<rect x="546" y="294" width="1" height="1" fill="#00ff00"/>
<rect x="548" y="278" width="1" height="12"/>
<rect x="547" y="288" width="3" height="3"/>
<rect x="548" y="289" width="1" height="1" fill="#00ff00"/>
<rect x="550" y="269" width="1" height="18"/>
<rect x="549" y="285" width="3" height="3"/>
<rect x="550" y="286" width="1" height="1" fill="#00ff00"/>
<rect x="552" y="265" width="1" height="13"/>
<rect x="551" y="269" width="3" height="9"/>
<rect x="552" y="270" width="1" height="7" fill="#00ff00"/>
<rect x="554" y="269" width="1" height="30"/>
<rect x="553" y="269" width="3" height="29"/>
<rect x="554" y="270" width="1" height="27" fill="#ff0000"/>
<rect x="556" y="286" width="1" height="15"/>
<rect x="555" y="298" width="3" height="3"/>
<rect x="556" y="299" width="1" height="1" fill="#ff0000"/>
<rect x="558" y="293" width="1" height="13"/>
<rect x="557" y="296" width="3" height="4"/>
<rect x="558" y="297" width="1" height="2" fill="#00ff00"/>
<rect x="560" y="295" width="1" height="19"/>
<rect x="559" y="295" width="3" height="6"/>
<rect x="560" y="296" width="1" height="4" fill="#ff0000"/>
<rect x="562" y="278" width="1" height="25"/>
<rect x="561" y="299" width="3" height="3"/>
<rect x="562" y="300" width="1" height="1" fill="#00ff00"/>
<rect x="564" y="264" width="1" height="36"/>
<rect x="563" y="295" width="3" height="5"/>
<rect x="564" y="296" width="1" height="3" fill="#00ff00"/>
<rect x="566" y="257" width="1" height="39"/>
<rect x="565" y="260" width="3" height="36"/>
<rect x="566" y="261" width="1" height="34" fill="#00ff00"/>
<rect x="568" y="246" width="1" height="15"/>
<rect x="567" y="249" width="3" height="12"/>
<rect x="568" y="250" width="1" height="10" fill="#00ff00"/>
<rect x="570" y="244" width="1" height="12"/>
<rect x="569" y="252" width="3" height="3"/>
<rect x="570" y="253" width="1" height="1" fill="#ff0000"/>
<rect x="572" y="253" width="1" height="11"/>
<rect x="571" y="253" width="3" height="3"/>
<rect x="572" y="254" width="1" height="1" fill="#ff0000"/>
<rect x="574" y="257" width="1" height="13"/>
<rect x="573" y="257" width="3" height="11"/>
<rect x="574" y="258" width="1" height="9" fill="#ff0000"/>
<rect x="576" y="258" width="1" height="16"/>
<rect x="575" y="262" width="3" height="8"/>
<rect x="576" y="263" width="1" height="6" fill="#00ff00"/>
<rect x="578" y="253" width="1" height="15"/>
<rect x="577" y="261" width="3" height="7"/>
<rect x="578" y="262" width="1" height="5" fill="#ff0000"/>
<rect x="580" y="247" width="1" height="13"/>
<rect x="579" y="248" width="3" height="12"/>
<rect x="580" y="249" width="1" height="10" fill="#00ff00"/>
<rect x="582" y="243" width="1" height="12"/>
<rect x="581" y="244" width="3" height="5"/>
<rect x="582" y="245" width="1" height="3" fill="#00ff00"/>
<rect x="584" y="239" width="1" height="12"/>
<rect x="583" y="243" width="3" height="3"/>
<rect x="584" y="244" width="1" height="1" fill="#00ff00"/>
<rect x="586" y="237" width="1" height="12"/>
<rect x="585" y="243" width="3" height="3"/>
<rect x="586" y="244" width="1" height="1" fill="#ff0000"/>
<rect x="588" y="238" width="1" height="9"/>
<rect x="587" y="243" width="3" height="4"/>
<rect x="588" y="244" width="1" height="2" fill="#00ff00"/>
<rect x="590" y="242" width="1" height="13"/>
<rect x="589" y="243" width="3" height="3"/>
<rect x="590" y="244" width="1" height="1" fill="#ff0000"/>
<rect x="592" y="256" width="1" height="22"/>
<rect x="591" y="256" width="3" height="19"/>
<rect x="592" y="257" width="1" height="17" fill="#ff0000"/>
<rect x="594" y="278" width="1" height="11"/>
<rect x="593" y="278" width="3" height="10"/>
<rect x="594" y="279" width="1" height="8" fill="#ff0000"/>
<rect x="596" y="280" width="1" height="11"/>
<rect x="595" y="280" width="3" height="8"/>
<rect x="596" y="281" width="1" height="6" fill="#00ff00"/>
<rect x="598" y="278" width="1" height="7"/>
<rect x="597" y="279" width="3" height="3"/>
<rect x="598" y="280" width="1" height="1" fill="#00ff00"/>
<rect x="600" y="267" width="1" height="13"/>
<rect x="599" y="270" width="3" height="10"/>
<rect x="600" y="271" width="1" height="8" fill="#00ff00"/>
<rect x="602" y="265" width="1" height="7"/>
<rect x="601" y="269" width="3" height="3"/>
<rect x="602" y="270" width="1" height="1" fill="#00ff00"/>
<rect x="604" y="261" width="1" height="9"/>
<rect x="603" y="267" width="3" height="3"/>
<rect x="604" y="268" width="1" height="1" fill="#00ff00"/>
<rect x="606" y="267" width="1" height="21"/>
<rect x="605" y="267" width="3" height="14"/>
<rect x="606" y="268" width="1" height="12" fill="#ff0000"/>
<rect x="608" y="280" width="1" height="13"/>
<rect x="607" y="280" width="3" height="11"/>
<rect x="608" y="281" width="1" height="9" fill="#ff0000"/>
<rect x="610" y="290" width="1" height="20"/>
<rect x="609" y="290" width="3" height="20"/>
<rect x="610" y="291" width="1" height="18" fill="#ff0000"/>
<rect x="612" y="301" width="1" height="15"/>
<rect x="611" y="305" width="3" height="5"/>
<rect x="612" y="306" width="1" height="3" fill="#00ff00"/>
<rect x="614" y="302" width="1" height="12"/>
<rect x="613" y="304" width="3" height="3"/>
<rect x="614" y="305" width="1" height="1" fill="#ff0000"/>
<rect x="616" y="300" width="1" height="12"/>
<rect x="615" y="304" width="3" height="3"/>
<rect x="616" y="305" width="1" height="1" fill="#00ff00"/>
<rect x="618" y="299" width="1" height="9"/>
<rect x="617" y="301" width="3" height="4"/>
<rect x="618" y="302" width="1" height="2" fill="#00ff00"/>
<rect x="620" y="298" width="1" height="13"/>
<rect x="619" y="298" width="3" height="4"/>
<rect x="620" y="299" width="1" height="2" fill="#00ff00"/>
<rect x="622" y="273" width="1" height="22"/>
<rect x="621" y="290" width="3" height="4"/>
<rect x="622" y="291" width="1" height="2" fill="#00ff00"/>
<rect x="624" y="262" width="1" height="29"/>
<rect x="623" y="263" width="3" height="28"/>
<rect x="624" y="264" width="1" height="26" fill="#00ff00"/>
<rect x="626" y="254" width="1" height="11"/>
<rect x="625" y="261" width="3" height="3"/>
<rect x="626" y="262" width="1" height="1" fill="#ff0000"/>
<rect x="628" y="257" width="1" height="8"/>
<rect x="627" y="263" width="3" height="3"/>
<rect x="628" y="264" width="1" height="1" fill="#00ff00"/>
<rect x="630" y="259" width="1" height="10"/>
<rect x="629" y="261" width="3" height="7"/>
<rect x="630" y="262" width="1" height="5" fill="#ff0000"/>
<rect x="632" y="251" width="1" height="18"/>
<rect x="631" y="252" width="3" height="17"/>
<rect x="632" y="253" width="1" height="15" fill="#00ff00"/>
<rect x="634" y="242" width="1" height="11"/>
<rect x="633" y="243" width="3" height="10"/>
<rect x="634" y="244" width="1" height="8" fill="#00ff00"/>
<rect x="636" y="241" width="1" height="5"/>
<rect x="635" y="243" width="3" height="3"/>
<rect x="636" y="244" width="1" height="1" fill="#ff0000"/>
<rect x="638" y="234" width="1" height="11"/>
<rect x="637" y="235" width="3" height="10"/>
<rect x="638" y="236" width="1" height="8" fill="#00ff00"/>
<rect x="640" y="234" width="1" height="4"/>
<rect x="639" y="236" width="3" height="3"/>
<rect x="640" y="237" width="1" height="1" fill="#ff0000"/>
<rect x="642" y="234" width="1" height="6"/>
<rect x="641" y="236" width="3" height="4"/>
<rect x="642" y="237" width="1" height="2" fill="#ff0000"/>
<rect x="644" y="234" width="1" height="6"/>
<rect x="643" y="234" width="3" height="6"/>
<rect x="644" y="235" width="1" height="4" fill="#00ff00"/>
<rect x="646" y="228" width="1" height="13"/>
<rect x="645" y="229" width="3" height="6"/>
<rect x="646" y="230" width="1" height="4" fill="#00ff00"/>
<rect x="648" y="226" width="1" height="11"/>
<rect x="647" y="229" width="3" height="3"/>
<rect x="648" y="230" width="1" height="1" fill="#00ff00"/>
<rect x="650" y="224" width="1" height="14"/>
<rect x="649" y="229" width="3" height="9"/>
<rect x="650" y="230" width="1" height="7" fill="#ff0000"/>
<rect x="652" y="224" width="1" height="15"/>
<rect x="651" y="237" width="3" height="3"/>
<rect x="652" y="238" width="1" height="1" fill="#ff0000"/>
<rect x="654" y="230" width="1" height="20"/>
<rect x="653" y="241" width="3" height="3"/>
<rect x="654" y="242" width="1" height="1" fill="#ff0000"/>
<rect x="656" y="229" width="1" height="17"/>
<rect x="655" y="229" width="3" height="14"/>
<rect x="656" y="230" width="1" height="12" fill="#00ff00"/>
<rect x="658" y="222" width="1" height="8"/>
<rect x="657" y="223" width="3" height="6"/>
<rect x="658" y="224" width="1" height="4" fill="#00ff00"/>
<rect x="660" y="223" width="1" height="16"/>
<rect x="659" y="223" width="3" height="3"/>
<rect x="660" y="224" width="1" height="1" fill="#ff0000"/>
<rect x="662" y="223" width="1" height="11"/>
<rect x="661" y="223" width="3" height="9"/>
<rect x="662" y="224" width="1" height="7" fill="#ff0000"/>
<rect x="664" y="226" width="1" height="9"/>
<rect x="663" y="231" width="3" height="4"/>
<rect x="664" y="232" width="1" height="2" fill="#ff0000"/>
<rect x="666" y="226" width="1" height="10"/>
<rect x="665" y="227" width="3" height="8"/>
<rect x="666" y="228" width="1" height="6" fill="#00ff00"/>
<rect x="668" y="227" width="1" height="11"/>
<rect x="667" y="227" width="3" height="11"/>
<rect x="668" y="228" width="1" height="9" fill="#ff0000"/>
<rect x="670" y="226" width="1" height="15"/>
<rect x="669" y="237" width="3" height="4"/>
<rect x="670" y="238" width="1" height="2" fill="#ff0000"/>
<rect x="672" y="220" width="1" height="8"/>
<rect x="671" y="226" width="3" height="3"/>
<rect x="672" y="227" width="1" height="1" fill="#00ff00"/>
</g>
<g>
<text x="0" y="13" font-size="14.5" fill="#000" font-weight="bold" textLength="413" lengthAdjust="spacingAndGlyphs" >($MDAX-XET - MDAX PERFORMANCE-INDEX,D) Dynamic,0:00-24:00</text>
<text x="30" y="97.5" font-size="26.5" fill="#0000ff" font-weight="bold" font-style="italic" textLength="193" lengthAdjust="spacingAndGlyphs" stroke="#0000ff" stroke-width="1.5">Elliott Wellen</text>
<text x="30" y="135" font-size="26.5" fill="#0000ff" font-weight="bold" font-style="italic" textLength="309" lengthAdjust="spacingAndGlyphs" stroke="#0000ff" stroke-width="1.5">Finanzmarktanalysen</text>
<text x="419" y="50.7" font-size="21.8" fill="#ff0000" font-weight="bold" textLength="295" lengthAdjust="spacingAndGlyphs" >Ausdehnungsziel 9901/10086</text>
<text x="723.5" y="50" font-size="30" fill="#0000ff" font-weight="bold" textLength="21" lengthAdjust="spacingAndGlyphs" >B</text>
<text x="664" y="80.7" font-size="16.5" fill="#000" font-weight="bold" textLength="59" lengthAdjust="spacingAndGlyphs" >10086 =</text>
<text x="724.5" y="83" font-size="27" fill="#ff0000" font-weight="bold" textLength="20" lengthAdjust="spacingAndGlyphs" >Z</text>
<text x="790" y="53.0" font-size="13" fill="#000" font-weight="bold" textLength="54" lengthAdjust="spacingAndGlyphs" >10500.00</text>
<text x="790" y="105.9" font-size="13" fill="#000" font-weight="bold" textLength="54" lengthAdjust="spacingAndGlyphs" >10000.00</text>
<text x="790" y="158.8" font-size="13" fill="#000" font-weight="bold" textLength="46" lengthAdjust="spacingAndGlyphs" >9500.00</text>
<text x="790" y="211.7" font-size="13" fill="#000" font-weight="bold" textLength="46" lengthAdjust="spacingAndGlyphs" >9000.00</text>
<text x="790" y="264.6" font-size="13" fill="#000" font-weight="bold" textLength="46" lengthAdjust="spacingAndGlyphs" >8500.00</text>
<text x="790" y="317.5" font-size="13" fill="#000" font-weight="bold" textLength="46" lengthAdjust="spacingAndGlyphs" >8000.00</text>
<text x="790" y="370.4" font-size="13" fill="#000" font-weight="bold" textLength="46" lengthAdjust="spacingAndGlyphs" >7500.00</text>
<text x="790" y="423.3" font-size="13" fill="#000" font-weight="bold" textLength="46" lengthAdjust="spacingAndGlyphs" >7000.00</text>
<text x="790" y="476.2" font-size="13" fill="#000" font-weight="bold" textLength="46" lengthAdjust="spacingAndGlyphs" >6500.00</text>
<text x="790" y="529.1" font-size="13" fill="#000" font-weight="bold" textLength="46" lengthAdjust="spacingAndGlyphs" >6000.00</text>
<text x="790" y="582.0" font-size="13" fill="#000" font-weight="bold" textLength="46" lengthAdjust="spacingAndGlyphs" >5500.00</text>
<text x="790" y="634.9" font-size="13" fill="#000" font-weight="bold" textLength="46" lengthAdjust="spacingAndGlyphs" >5000.00</text>
<text x="431" y="206" font-size="34" fill="#ff0000" font-weight="bold" textLength="20" lengthAdjust="spacingAndGlyphs" >y</text>
<text x="434" y="233" font-size="20.8" fill="#000" font-weight="bold" textLength="11.5" lengthAdjust="spacingAndGlyphs" >c</text>
<text x="171" y="341" font-size="21" fill="#000" textLength="12" lengthAdjust="spacingAndGlyphs" stroke="#000" stroke-width="0.5">a</text>
<text x="327.5" y="425.6" font-size="19.5" fill="#000" textLength="12.5" lengthAdjust="spacingAndGlyphs" stroke="#000" stroke-width="0.5">b</text>
<text x="438.5" y="417" font-size="19.5" fill="#000" textLength="31" lengthAdjust="spacingAndGlyphs" stroke="#000" stroke-width="0.5">a/w</text>
<text x="574" y="218" font-size="19.5" fill="#000" textLength="28" lengthAdjust="spacingAndGlyphs" stroke="#000" stroke-width="0.5">b/x</text>
<text x="580" y="231" font-size="15" fill="#808080" font-weight="bold" textLength="9" lengthAdjust="spacingAndGlyphs" >e</text>
<text x="459.5" y="250.6" font-size="14.6" fill="#808080" font-weight="bold" textLength="9" lengthAdjust="spacingAndGlyphs" >a</text>
<text x="513.8" y="242.9" font-size="14" fill="#808080" font-weight="bold" textLength="9" lengthAdjust="spacingAndGlyphs" >c</text>
<text x="475.5" y="392" font-size="14" fill="#808080" font-weight="bold" textLength="10" lengthAdjust="spacingAndGlyphs" >b</text>
<text x="530.2" y="347.6" font-size="14" fill="#808080" font-weight="bold" textLength="9" lengthAdjust="spacingAndGlyphs" >d</text>
<text x="607.8" y="346.8" font-size="15" fill="#808080" font-weight="bold" textLength="9" lengthAdjust="spacingAndGlyphs" >a</text>
<text x="589.5" y="305" font-size="14" fill="#0000ff" font-weight="bold" textLength="12" lengthAdjust="spacingAndGlyphs" >w</text>
<text x="608" y="330.5" font-size="14" fill="#0000ff" font-weight="bold" textLength="8" lengthAdjust="spacingAndGlyphs" >y</text>
<text x="600.2" y="255" font-size="13.5" fill="#0000ff" font-weight="bold" textLength="8" lengthAdjust="spacingAndGlyphs" >x</text>
<text x="690.2" y="168.6" font-size="12.5" fill="#0000ff" font-weight="bold" textLength="7.5" lengthAdjust="spacingAndGlyphs" >c</text>
<text x="688.5" y="183.4" font-size="15.5" fill="#ff00ff" font-weight="bold" textLength="9" lengthAdjust="spacingAndGlyphs" >5</text>
<text x="671.5" y="193.3" font-size="14.5" fill="#ff00ff" font-weight="bold" textLength="8" lengthAdjust="spacingAndGlyphs" >3</text>
<text x="687" y="208.6" font-size="15" fill="#ff00ff" font-weight="bold" textLength="9" lengthAdjust="spacingAndGlyphs" >4</text>
<text x="648.3" y="219.5" font-size="15" fill="#0000ff" font-weight="bold" textLength="8.5" lengthAdjust="spacingAndGlyphs" >a</text>
<text x="658" y="217.8" font-size="14.5" fill="#ff00ff" font-weight="bold" textLength="6.5" lengthAdjust="spacingAndGlyphs" >1</text>
<text x="652" y="262.7" font-size="14" fill="#0000ff" font-weight="bold" textLength="8.5" lengthAdjust="spacingAndGlyphs" >b</text>
<text x="667" y="253.7" font-size="14.5" fill="#ff00ff" font-weight="bold" textLength="52" lengthAdjust="spacingAndGlyphs" >2 = 8678</text>
<text x="646.5" y="157.9" font-size="15.5" fill="#808080" font-weight="bold" textLength="91" lengthAdjust="spacingAndGlyphs" >MoB ´b´ 9207</text>
<text x="690.5" y="305.9" font-size="16" fill="#007000" font-weight="bold" textLength="73" lengthAdjust="spacingAndGlyphs" >MoB: 8099</text>
<text x="646.2" y="359.8" font-size="14" fill="#808080" textLength="28" lengthAdjust="spacingAndGlyphs" >7649</text>
<text x="682" y="357.5" font-size="13" fill="#808080" font-weight="bold" textLength="8" lengthAdjust="spacingAndGlyphs" >c</text>
<text x="660.3" y="409" font-size="14" fill="#808080" textLength="27" lengthAdjust="spacingAndGlyphs" >7167</text>
<text x="696" y="407" font-size="13" fill="#808080" font-weight="bold" textLength="8" lengthAdjust="spacingAndGlyphs" >c</text>
<text x="672.3" y="474" font-size="20.8" fill="#000" font-weight="bold" textLength="85" lengthAdjust="spacingAndGlyphs" >c/y =6511</text>
<text x="674" y="505.4" font-size="35.5" fill="#ff0000" font-weight="bold" textLength="38" lengthAdjust="spacingAndGlyphs" >x2</text>
<text x="486.4" y="550.4" font-size="17" fill="#ff0000" font-weight="bold" textLength="102" lengthAdjust="spacingAndGlyphs" >unter 6000 ist</text>
<text x="486.4" y="568.7" font-size="17" fill="#ff0000" font-weight="bold" textLength="107" lengthAdjust="spacingAndGlyphs" >Ende Gelände</text>
<text x="142.8" y="587.7" font-size="13.8" fill="#000" font-weight="bold" textLength="341" lengthAdjust="spacingAndGlyphs" >Das &quot;Flash-Crash-Tief&quot; wird im MDAX nicht angezeigt.</text>
<text x="21.4" y="614.8" font-size="36.8" fill="#ff0000" font-weight="bold" textLength="35" lengthAdjust="spacingAndGlyphs" >x1</text>
<text x="1.5" y="627.7" font-size="8" fill="#000" textLength="56" lengthAdjust="spacingAndGlyphs" >© eSignal, 2010</text>
<text x="0.5" y="645.8" font-size="14" fill="#000" font-weight="bold" textLength="14" lengthAdjust="spacingAndGlyphs" >15</text>
<text x="19.8" y="645.8" font-size="14" fill="#000" font-weight="bold" textLength="14" lengthAdjust="spacingAndGlyphs" >29</text>
<text x="39.5" y="645.8" font-size="14" fill="#000" font-weight="bold" textLength="14" lengthAdjust="spacingAndGlyphs" >13</text>
<text x="59.2" y="645.8" font-size="14" fill="#000" font-weight="bold" textLength="14" lengthAdjust="spacingAndGlyphs" >27</text>
<text x="79.5" y="645.8" font-size="14" fill="#000" font-weight="bold" textLength="14" lengthAdjust="spacingAndGlyphs" >10</text>
<text x="99.2" y="645.8" font-size="14" fill="#000" font-weight="bold" textLength="14" lengthAdjust="spacingAndGlyphs" >24</text>
<text x="119.2" y="645.8" font-size="14" fill="#000" font-weight="bold" textLength="14" lengthAdjust="spacingAndGlyphs" >07</text>
<text x="139.0" y="645.8" font-size="14" fill="#000" font-weight="bold" textLength="14" lengthAdjust="spacingAndGlyphs" >21</text>
<text x="160.0" y="645.8" font-size="14" fill="#000" font-weight="bold" textLength="14" lengthAdjust="spacingAndGlyphs" >05</text>
<text x="180.1" y="645.8" font-size="14" fill="#000" font-weight="bold" textLength="14" lengthAdjust="spacingAndGlyphs" >19</text>
<text x="200.1" y="645.8" font-size="14" fill="#000" font-weight="bold" textLength="14" lengthAdjust="spacingAndGlyphs" >02</text>
<text x="220.1" y="645.8" font-size="14" fill="#000" font-weight="bold" textLength="14" lengthAdjust="spacingAndGlyphs" >16</text>
<text x="239.8" y="645.8" font-size="14" fill="#000" font-weight="bold" textLength="14" lengthAdjust="spacingAndGlyphs" >30</text>
<text x="259.8" y="645.8" font-size="14" fill="#000" font-weight="bold" textLength="14" lengthAdjust="spacingAndGlyphs" >14</text>
<text x="275.5" y="645.8" font-size="14" fill="#000" font-weight="bold" textLength="14" lengthAdjust="spacingAndGlyphs" >28</text>
<text x="292.5" y="645.8" font-size="14" fill="#000" font-weight="bold" textLength="14" lengthAdjust="spacingAndGlyphs" >11</text>
<text x="311.9" y="645.8" font-size="14" fill="#000" font-weight="bold" textLength="14" lengthAdjust="spacingAndGlyphs" >25</text>
<text x="331.5" y="645.8" font-size="14" fill="#000" font-weight="bold" textLength="14" lengthAdjust="spacingAndGlyphs" >08</text>
<text x="351.9" y="645.8" font-size="14" fill="#000" font-weight="bold" textLength="14" lengthAdjust="spacingAndGlyphs" >22</text>
<text x="371.5" y="645.8" font-size="14" fill="#000" font-weight="bold" textLength="14" lengthAdjust="spacingAndGlyphs" >08</text>
<text x="391.5" y="645.8" font-size="14" fill="#000" font-weight="bold" textLength="14" lengthAdjust="spacingAndGlyphs" >22</text>
<text x="409.0" y="645.8" font-size="14" fill="#000" font-weight="bold" textLength="14" lengthAdjust="spacingAndGlyphs" >06</text>
<text x="427.7" y="645.8" font-size="14" fill="#000" font-weight="bold" textLength="14" lengthAdjust="spacingAndGlyphs" >19</text>
<text x="447.5" y="645.8" font-size="14" fill="#000" font-weight="bold" textLength="14" lengthAdjust="spacingAndGlyphs" >03</text>
<text x="467.2" y="645.8" font-size="14" fill="#000" font-weight="bold" textLength="14" lengthAdjust="spacingAndGlyphs" >17</text>
<text x="487.5" y="645.8" font-size="14" fill="#000" font-weight="bold" textLength="14" lengthAdjust="spacingAndGlyphs" >31</text>
<text x="507.9" y="645.8" font-size="14" fill="#000" font-weight="bold" textLength="14" lengthAdjust="spacingAndGlyphs" >14</text>
<text x="527.7" y="645.8" font-size="14" fill="#000" font-weight="bold" textLength="14" lengthAdjust="spacingAndGlyphs" >28</text>
<text x="547.6" y="645.8" font-size="14" fill="#000" font-weight="bold" textLength="14" lengthAdjust="spacingAndGlyphs" >12</text>
<text x="567.7" y="645.8" font-size="14" fill="#000" font-weight="bold" textLength="14" lengthAdjust="spacingAndGlyphs" >26</text>
<text x="587.1" y="645.8" font-size="14" fill="#000" font-weight="bold" textLength="14" lengthAdjust="spacingAndGlyphs" >09</text>
<text x="607.4" y="645.8" font-size="14" fill="#000" font-weight="bold" textLength="14" lengthAdjust="spacingAndGlyphs" >23</text>
<text x="627.8" y="645.8" font-size="14" fill="#000" font-weight="bold" textLength="14" lengthAdjust="spacingAndGlyphs" >06</text>
<text x="647.8" y="645.8" font-size="14" fill="#000" font-weight="bold" textLength="14" lengthAdjust="spacingAndGlyphs" >20</text>
<text x="667.3" y="645.8" font-size="14" fill="#000" font-weight="bold" textLength="14" lengthAdjust="spacingAndGlyphs" >04</text>
<text x="23.5" y="661.6" font-size="13.5" fill="#000" font-weight="bold" textLength="19.5" lengthAdjust="spacingAndGlyphs" >Jul</text>
<text x="69.5" y="661.6" font-size="13.5" fill="#000" font-weight="bold" textLength="25" lengthAdjust="spacingAndGlyphs" >Aug</text>
<text x="112.5" y="661.6" font-size="13.5" fill="#000" font-weight="bold" textLength="24" lengthAdjust="spacingAndGlyphs" >Sep</text>
<text x="156.2" y="661.6" font-size="13.5" fill="#000" font-weight="bold" textLength="21" lengthAdjust="spacingAndGlyphs" >Oct</text>
<text x="200.1" y="661.6" font-size="13.5" fill="#000" font-weight="bold" textLength="24" lengthAdjust="spacingAndGlyphs" >Nov</text>
<text x="242.1" y="661.6" font-size="13.5" fill="#000" font-weight="bold" textLength="24.3" lengthAdjust="spacingAndGlyphs" >Dec</text>
<text x="281.9" y="661.6" font-size="13.5" fill="#000" font-weight="bold" textLength="28" lengthAdjust="spacingAndGlyphs" >2010</text>
<text x="322.0" y="661.6" font-size="13.5" fill="#000" font-weight="bold" textLength="24" lengthAdjust="spacingAndGlyphs" >Feb</text>
<text x="362.1" y="661.6" font-size="13.5" fill="#000" font-weight="bold" textLength="24" lengthAdjust="spacingAndGlyphs" >Mar</text>
<text x="408.1" y="661.6" font-size="13.5" fill="#000" font-weight="bold" textLength="23" lengthAdjust="spacingAndGlyphs" >Apr</text>
<text x="448.2" y="661.6" font-size="13.5" fill="#000" font-weight="bold" textLength="26" lengthAdjust="spacingAndGlyphs" >May</text>
<text x="489.2" y="661.6" font-size="13.5" fill="#000" font-weight="bold" textLength="24" lengthAdjust="spacingAndGlyphs" >Jun</text>
<text x="533.3" y="661.6" font-size="13.5" fill="#000" font-weight="bold" textLength="20" lengthAdjust="spacingAndGlyphs" >Jul</text>
<text x="578.2" y="661.6" font-size="13.5" fill="#000" font-weight="bold" textLength="25" lengthAdjust="spacingAndGlyphs" >Aug</text>
<text x="623.0" y="661.6" font-size="13.5" fill="#000" font-weight="bold" textLength="24" lengthAdjust="spacingAndGlyphs" >Sep</text>
<text x="666.0" y="661.6" font-size="13.5" fill="#000" font-weight="bold" textLength="23" lengthAdjust="spacingAndGlyphs" >Oct</text>
</g>

<g shape-rendering="crispEdges">
<line x1="178.5" y1="348" x2="789" y2="95.5" stroke="#ff0000" stroke-width="1"/>
<line x1="37" y1="632" x2="789" y2="225" stroke="#008000" stroke-width="1"/>
<line x1="464.4" y1="255.4" x2="683" y2="218" stroke="#ff0000" stroke-width="1.2"/>
<line x1="438" y1="240" x2="687" y2="231" stroke="#a8a8b8" stroke-width="1" stroke-dasharray="3,3"/>
<line x1="431.8" y1="530" x2="618" y2="530" stroke="#ff0000" stroke-width="2"/>
<line x1="656" y1="300" x2="680" y2="300" stroke="#0000ff" stroke-width="2"/>
<line x1="0" y1="632.5" x2="789.5" y2="632.5" stroke="#000" stroke-width="1"/>
<line x1="789.5" y1="0" x2="789.5" y2="632.5" stroke="#000" stroke-width="1"/>
<line x1="0" y1="664.5" x2="839" y2="664.5" stroke="#c8c8e0" stroke-width="1" stroke-dasharray="1,1"/>
</g>
<line x1="676" y1="217.7" x2="691.2" y2="186.1" stroke="#0000ff" stroke-width="2"/>
<line x1="667.5" y1="300.9" x2="683" y2="346.8" stroke="#707070" stroke-width="1.5"/>
<line x1="687" y1="361.4" x2="697" y2="392.7" stroke="#707070" stroke-width="1.5"/>
<line x1="701.9" y1="414" x2="710.7" y2="447" stroke="#707070" stroke-width="1.5"/>
<g stroke="#000" stroke-width="1" fill="none" shape-rendering="crispEdges">
<line x1="317.7" y1="560.3" x2="449.7" y2="431.3"/>
<polyline points="435.5,435.7 449.7,431.3 445,445.6"/>
</g>
<rect x="790" y="215" width="46" height="16" fill="#00ff00"/>
<text x="790.5" y="227.4" font-size="13.5" fill="#fff" textLength="45" lengthAdjust="spacingAndGlyphs">8850.86</text>

</svg>
</body></html>
